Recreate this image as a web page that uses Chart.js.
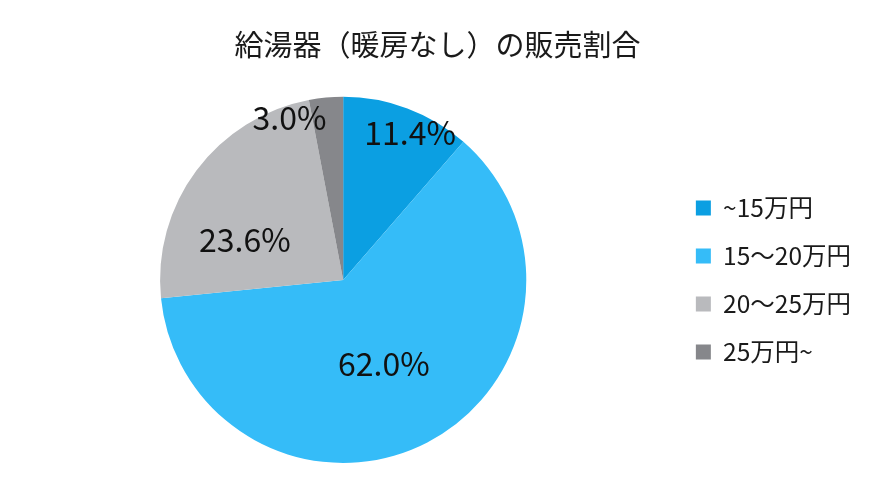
<!DOCTYPE html>
<html>
<head>
<meta charset="utf-8">
<script src="https://cdn.jsdelivr.net/npm/chart.js@4"></script>
<style>
html,body{margin:0;padding:0;background:#fff;}
#wrap{width:873px;height:486px;}
</style>
</head>
<body>
<div id="wrap"><canvas id="c" width="873" height="486"></canvas></div>
<script>
const titleText = '給湯器（暖房なし）の販売割合';
const categories = ['~15万円', '15〜20万円', '20〜25万円', '25万円~'];
const shares = [11.4, 62.0, 23.6, 3.0];
const colors = ['#0b9fe2', '#35bcf8', '#b9babd', '#86878b'];

const FONT = '"Noto Sans CJK JP", "Noto Sans", sans-serif';

// label placement tweaks: radial fraction and angular offset (deg) per slice
const labelPlacement = {
  r: [0.88, 0.51, 0.58, 0.93],
  da: [4, 1.5, -14.5, -13]
};

const pieLabels = {
  id: 'pieLabels',
  afterDatasetsDraw(chart) {
    const ctx = chart.ctx;
    const meta = chart.getDatasetMeta(0);
    ctx.save();
    ctx.font = '32px ' + FONT;
    ctx.fillStyle = '#111';
    ctx.textAlign = 'center';
    ctx.textBaseline = 'middle';
    meta.data.forEach((arc, i) => {
      const p = arc.getProps(['x','y','startAngle','endAngle','outerRadius'], true);
      const mid = (p.startAngle + p.endAngle) / 2 + labelPlacement.da[i] * Math.PI / 180;
      const rr = p.outerRadius * labelPlacement.r[i];
      const x = p.x + Math.cos(mid) * rr;
      const y = p.y + Math.sin(mid) * rr;
      ctx.fillText(shares[i].toFixed(1) + '%', x, y);
    });
    ctx.restore();
  }
};

new Chart(document.getElementById('c'), {
  type: 'pie',
  data: {
    labels: categories,
    datasets: [{
      data: shares,
      backgroundColor: colors,
      borderWidth: 0
    }]
  },
  options: {
    responsive: false,
    animation: false,
    devicePixelRatio: 1,
    layout: { padding: { left: 14, right: 12, top: 0, bottom: 23 } },
    plugins: {
      title: {
        display: true,
        text: titleText,
        color: '#1a1a1a',
        font: { family: FONT, size: 29, weight: 'normal' },
        padding: { top: 28, bottom: 34 }
      },
      legend: {
        position: 'right',
        fullSize: false,
        labels: {
          color: '#1a1a1a',
          font: { family: FONT, size: 24.5 },
          boxWidth: 15,
          boxHeight: 15,
          padding: 23.5
        }
      },
      tooltip: { enabled: false }
    }
  },
  plugins: [pieLabels]
});
</script>
</body>
</html>
